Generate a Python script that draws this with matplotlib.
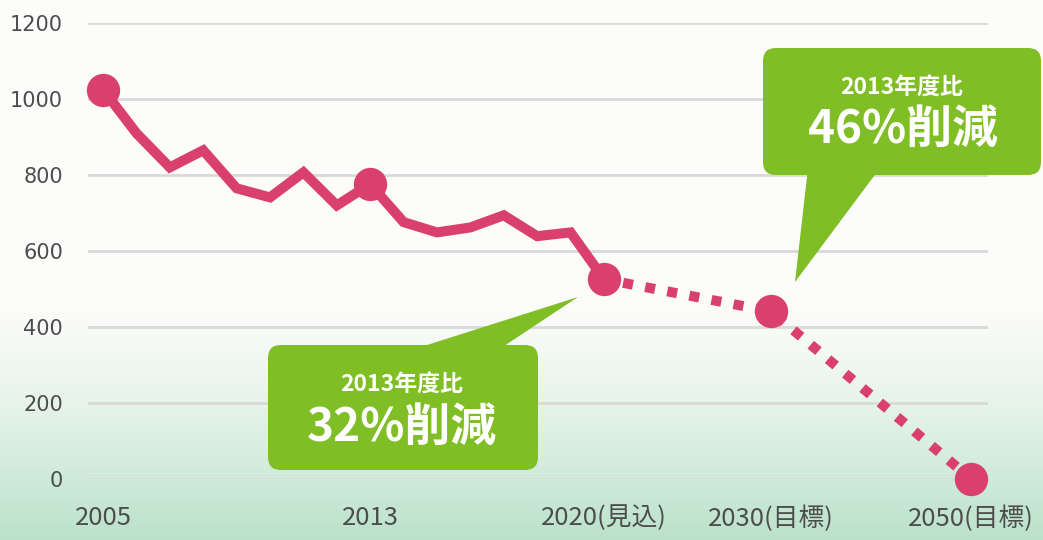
import numpy as np
import matplotlib
matplotlib.use("Agg")
import matplotlib.pyplot as plt
from matplotlib.patches import FancyBboxPatch, Polygon
from matplotlib.transforms import Affine2D

# ---------------- data ----------------
years = list(range(2005, 2021)) + [2030, 2050]
values = [1025, 910, 820, 865, 765, 741, 807, 720, 776,
          676, 649, 662, 694, 639, 649, 526, 441, 0]
x_pos = list(range(16)) + [20, 26]          # category positions on the axis
tick_pos = [0, 8, 15, 20, 26]
tick_labels = ["2005", "2013", "2020(見込)", "2030(目標)", "2050(目標)"]
marker_years = [2005, 2013, 2020, 2030, 2050]
y_ticks = [0, 200, 400, 600, 800, 1000, 1200]
callout1 = ("2013年度比", "32%削減")
callout2 = ("2013年度比", "46%削減")

PINK = "#d9406d"
GREEN = "#7fbe24"
CJK = ["Noto Sans CJK JP", "DejaVu Sans"]

W, H = 1043, 540
fig = plt.figure(figsize=(W / 100, H / 100), dpi=100)

# background gradient
bg = fig.add_axes([0, 0, 1, 1], zorder=-10)
rows = np.arange(H)
t = np.clip((rows - 300) / 240.0, 0, 1) ** 1.3
top = np.array([252, 252, 250]) / 255
bot = np.array([186, 226, 202]) / 255
grad = top[None, :] * (1 - t[:, None]) + bot[None, :] * t[:, None]
grad = np.repeat(grad[:, None, :], 4, axis=1)
bg.imshow(grad, aspect="auto", extent=[0, 1, 0, 1])
bg.axis("off")

# main axes
ax = fig.add_axes([88 / W, (H - 479) / H, 900 / W, 456 / H])
ax.patch.set_alpha(0)
ax.set_xlim(-0.45, 26.5)
ax.set_ylim(0, 1200)
for s in ax.spines.values():
    s.set_visible(False)
ax.set_yticks(y_ticks)
ax.set_yticklabels([str(v) for v in y_ticks], fontsize=15, color="#4d4d4d")
ax.set_xticks(tick_pos)
ax.set_xticklabels(tick_labels, fontsize=18.5, color="#4d4d4d", family=CJK)
ax.tick_params(axis="y", length=0, pad=18)
ax.tick_params(axis="x", length=0, pad=19)
ax.grid(axis="y", color="#d9d9d9", linewidth=2)
ax.set_axisbelow(True)

# solid part (2005-2020)
n_solid = 16
ax.plot(x_pos[:n_solid], values[:n_solid], color=PINK, lw=7.2,
        solid_joinstyle="miter", solid_capstyle="butt", zorder=3, clip_on=False)
# dotted part (2020-2050)
ax.plot(x_pos[n_solid - 1:], values[n_solid - 1:], color=PINK, lw=7.2,
        linestyle=(0.3, (1.0, 1.25)), dash_capstyle="butt", zorder=3, clip_on=False)
# markers
mx = [x_pos[years.index(y)] for y in marker_years]
my = [values[years.index(y)] for y in marker_years]
ax.plot(mx, my, "o", color=PINK, markersize=24, markeredgewidth=0, zorder=4, clip_on=False)

# callouts in pixel coordinates (origin top-left)
pix = Affine2D().scale(1, -1).translate(0, H).scale(1 / 100) + fig.dpi_scale_trans


def callout(x0, y0, x1, y1, tri, l1, l1xy, l2, l2xy):
    r = 13
    box = FancyBboxPatch((x0 + r, y0 + r), (x1 - x0) - 2 * r, (y1 - y0) - 2 * r,
                         boxstyle=f"round,pad={r},rounding_size={r}",
                         transform=pix, facecolor=GREEN, edgecolor="none", zorder=20)
    fig.patches.append(box)
    poly = Polygon(tri, closed=True, transform=pix, facecolor=GREEN,
                   edgecolor="none", zorder=20)
    fig.patches.append(poly)
    fig.text(l1xy[0], l1xy[1], l1, transform=pix, ha="center", va="center",
             fontsize=16.5, color="white", fontweight="bold", family=CJK, zorder=21)
    fig.text(l2xy[0], l2xy[1], l2, transform=pix, ha="center", va="center",
             fontsize=33, color="white", fontweight="bold", family=CJK, zorder=21)


callout(268, 345, 538, 470, [(405, 352), (578, 297), (495, 352)],
        callout1[0], (402, 384), callout1[1], (402, 428))
callout(763, 48, 1041, 175, [(808, 168), (795, 282), (880, 168)],
        callout2[0], (902, 87), callout2[1], (903, 130))

fig.savefig("out.png", dpi=100)
